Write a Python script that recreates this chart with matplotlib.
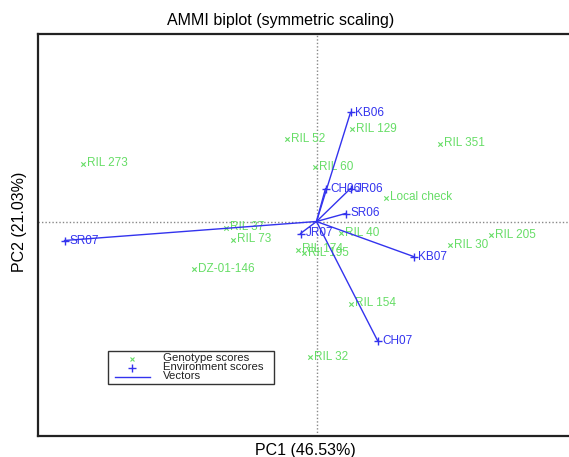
import matplotlib
matplotlib.use("Agg")
import matplotlib.pyplot as plt
from matplotlib.lines import Line2D
from matplotlib.patches import Rectangle

W, H = 569, 457

# genotype scores (PC1, PC2)
geno_names = ["RIL 273", "RIL 52", "RIL 129", "RIL 351", "RIL 60", "Local check",
              "RIL 37", "RIL 73", "RIL 40", "RIL 205", "RIL 30", "RIL 174",
              "RIL 195", "DZ-01-146", "RIL 154", "RIL 32"]
geno_pc1 = [-2.34, -0.30, 0.35, 1.23, -0.02, 0.69,
            -0.91, -0.84, 0.24, 1.74, 1.33, -0.19,
            -0.13, -1.23, 0.34, -0.07]
geno_pc2 = [0.58, 0.83, 0.93, 0.78, 0.55, 0.24,
            -0.06, -0.18, -0.11, -0.13, -0.23, -0.28,
            -0.31, -0.47, -0.82, -1.35]

# environment scores (PC1, PC2)
env_names = ["KB06", "CH06", "JR06", "SR06", "SR07", "JR07", "KB07", "CH07"]
env_pc1 = [0.34, 0.09, 0.34, 0.29, -2.52, -0.16, 0.97, 0.61]
env_pc2 = [1.09, 0.33, 0.33, 0.08, -0.19, -0.12, -0.35, -1.19]

GREEN = "#66dd66"
BLUE = "#3333ee"
FONT = "Liberation Sans"
plt.rcParams["font.family"] = [FONT, "DejaVu Sans"]


def fx(px):
    return px / W


def fy(py):
    return 1 - py / H


fig = plt.figure(figsize=(W / 100, H / 100), dpi=100)
ax = fig.add_axes([fx(38), fy(436), (594 - 38) / W, (436 - 34) / H])
ax.set_xlim(-2.785, 2.775)
ax.set_ylim(-2.145, 1.875)
ax.set_xticks([])
ax.set_yticks([])
for s in ax.spines.values():
    s.set_linewidth(1.6)
    s.set_color("#222222")

ax.axhline(0, color="#888888", lw=1.0, ls=(0, (1, 1.5)), zorder=1)
ax.axvline(0, color="#888888", lw=1.0, ls=(0, (1, 1.5)), zorder=1)

# genotypes
ax.scatter(geno_pc1, geno_pc2, marker="x", s=10, color=GREEN, linewidths=0.8, zorder=3)
for n, x, y in zip(geno_names, geno_pc1, geno_pc2):
    ax.annotate(n, (x, y), xytext=(3.5, 0), textcoords="offset points",
                ha="left", va="center", color=GREEN, fontsize=8.5, zorder=3)

# environments and vectors
for n, x, y in zip(env_names, env_pc1, env_pc2):
    ax.plot([0, x], [0, y], color=BLUE, lw=1.0, zorder=4)
ax.scatter(env_pc1, env_pc2, marker="+", s=40, color=BLUE, linewidths=1.0, zorder=4)
for n, x, y in zip(env_names, env_pc1, env_pc2):
    ax.annotate(n, (x, y), xytext=(3.5, 0), textcoords="offset points",
                ha="left", va="center", color=BLUE, fontsize=8.5, zorder=4)

# titles
fig.text(fx(281), fy(21), "AMMI biplot (symmetric scaling)", ha="center", va="center",
         fontsize=11.5)
fig.text(fx(305), fy(450), "PC1 (46.53%)", ha="center", va="center", fontsize=11.5)
fig.text(fx(20), fy(222), "PC2 (21.03%)", ha="center", va="center", fontsize=11.5,
         rotation=90)

# legend box
fig.patches.append(Rectangle((fx(108), fy(384)), (274 - 108) / W, (384 - 351) / H,
                             transform=fig.transFigure, fill=False, ec="#333333",
                             lw=1.0, zorder=5))
fig.lines.append(Line2D([fx(132)], [fy(359)], marker="x", ms=3.5, mew=0.8, color=GREEN,
                        ls="none", transform=fig.transFigure))
fig.lines.append(Line2D([fx(132)], [fy(368)], marker="+", ms=6, mew=1.0, color=BLUE,
                        ls="none", transform=fig.transFigure))
fig.lines.append(Line2D([fx(115), fx(150)], [fy(377), fy(377)], color=BLUE, lw=1.0,
                        transform=fig.transFigure))
for i, t in enumerate(["Genotype scores", "Environment scores", "Vectors"]):
    fig.text(fx(163), fy(358 + 9 * i), t, ha="left", va="center", fontsize=8.2,
             color="#222222")

fig.savefig("out.png", dpi=100)
